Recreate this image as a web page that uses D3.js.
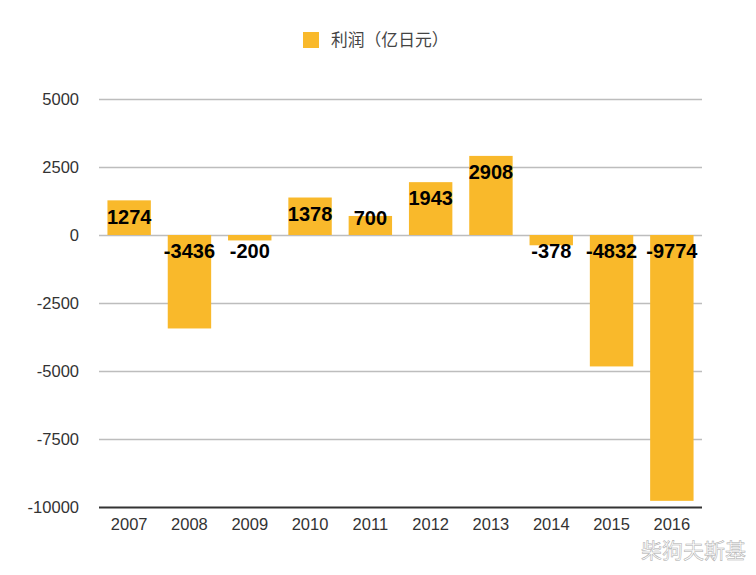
<!DOCTYPE html>
<html>
<head>
<meta charset="utf-8">
<script src="https://cdn.jsdelivr.net/npm/d3@7"></script>
<style>
html, body { margin: 0; padding: 0; background: #fff; }
svg { display: block; font-family: "Liberation Sans", sans-serif; }
</style>
</head>
<body>
<div class="canvas"></div>
<script>
const width = 756
const height = 575

const years = ["2007", "2008", "2009", "2010", "2011", "2012", "2013", "2014", "2015", "2016"]
const profit = [1274, -3436, -200, 1378, 700, 1943, 2908, -378, -4832, -9774]
const yTicks = [5000, 2500, 0, -2500, -5000, -7500, -10000]
const legendName = "利润（亿日元）"
const watermark = "柴狗夫斯基"

const barColor = "#f9b92b"

const svg = d3.select(".canvas")
    .append("svg")
    .attr("width", width)
    .attr("height", height)

const x = d3.scaleBand()
    .domain(years)
    .range([99, 702])
    .paddingInner(0.28)
    .paddingOuter(0.14)

const y = d3.scaleLinear()
    .domain([-10000, 5000])
    .range([507, 99])

// gridlines + y labels
const yAxis = svg.append("g")
    .attr("transform", "translate(99,0)")
    .call(d3.axisLeft(y).tickValues(yTicks).tickSize(-603).tickPadding(20).tickFormat(String))

yAxis.select(".domain").remove()
yAxis.selectAll(".tick line")
    .attr("stroke", d => d === -10000 ? "#333" : "#bdbdbd")
    .attr("stroke-width", d => d === -10000 ? 2 : 1.5)
yAxis.selectAll(".tick text")
    .attr("font-family", "Liberation Sans")
    .attr("font-size", 16.5)
    .attr("fill", "#333")

// x labels
const xAxis = svg.append("g")
    .attr("transform", "translate(0,507)")
    .call(d3.axisBottom(x).tickSize(0).tickPadding(11))

xAxis.select(".domain").remove()
xAxis.selectAll(".tick text")
    .attr("font-family", "Liberation Sans")
    .attr("font-size", 16.5)
    .attr("fill", "#333")

const rows = years.map((year, i) => ({year, value: profit[i]}))

svg.append("g").selectAll("rect")
    .data(rows)
    .enter()
    .append("rect")
    .attr("x", d => x(d.year))
    .attr("y", d => y(Math.max(d.value, 0)))
    .attr("width", x.bandwidth())
    .attr("height", d => Math.abs(y(d.value) - y(0)))
    .attr("fill", barColor)

// labels hang from the bar top, short positive bars get pushed up a bit
svg.append("g").selectAll("text")
    .data(rows)
    .enter()
    .append("text")
    .attr("x", d => x(d.year) + x.bandwidth() / 2)
    .attr("y", d => d.value < 0 ? y(0) + 16 : Math.min(y(d.value) + 16, y(0) - 17))
    .attr("dy", "0.36em")
    .attr("text-anchor", "middle")
    .attr("font-size", 20)
    .attr("font-weight", "bold")
    .attr("fill", "#000")
    .text(d => d.value)

// legend
svg.append("rect")
    .attr("x", 303)
    .attr("y", 32)
    .attr("width", 16)
    .attr("height", 16)
    .attr("fill", barColor)

svg.append("text")
    .attr("x", 331)
    .attr("y", 40)
    .attr("dy", "0.36em")
    .attr("font-family", "Noto Sans CJK SC")
    .attr("font-size", 16.8)
    .attr("fill", "#444")
    .text(legendName)

// watermark
svg.append("text")
    .attr("x", 746)
    .attr("y", 558)
    .attr("text-anchor", "end")
    .attr("font-family", "Noto Sans CJK SC")
    .attr("font-size", 21)
    .attr("fill", "#fff")
    .attr("stroke", "#aaa")
    .attr("stroke-width", 0.5)
    .text(watermark)
</script>
</body>
</html>
